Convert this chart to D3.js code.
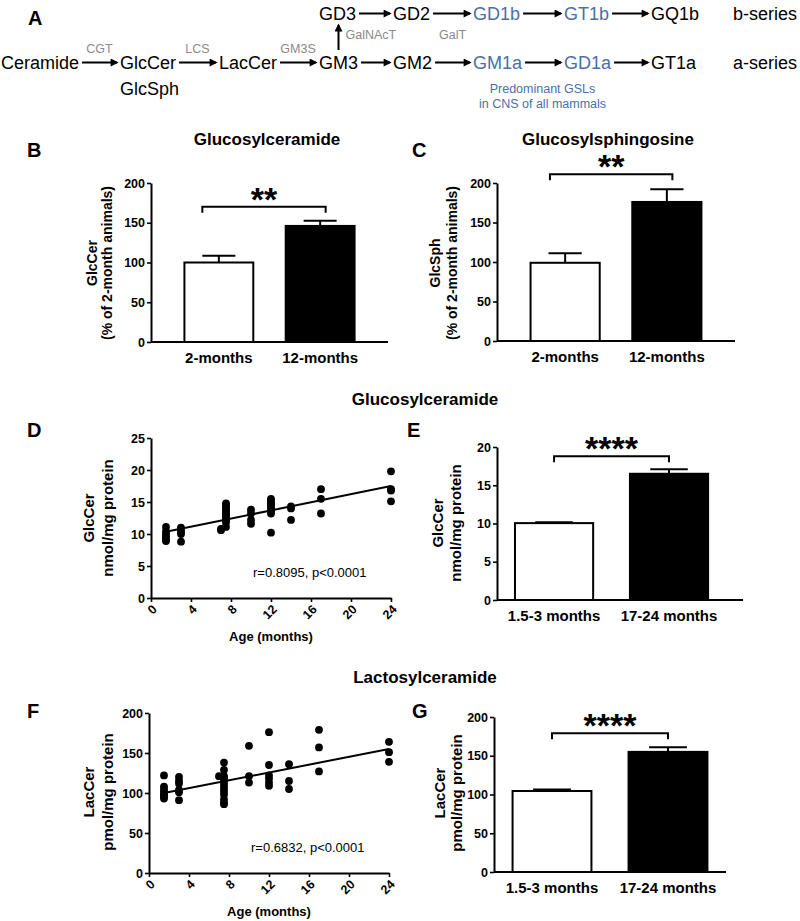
<!DOCTYPE html>
<html>
<head>
<meta charset="utf-8">
<script src="https://cdn.jsdelivr.net/npm/d3@7"></script>
<style>
  body { margin: 0; background: #fff; }
  text { font-family: "Liberation Sans", Arial, Helvetica, sans-serif; }
</style>
</head>
<body>
<svg id="fig" width="800" height="921"></svg>
<script>
// ---- data ----
// panel A: pathway
const aSeries = ["Ceramide", "GlcCer", "LacCer", "GM3", "GM2", "GM1a", "GD1a", "GT1a"];
const bSeries = ["GD3", "GD2", "GD1b", "GT1b", "GQ1b"];
const enzymes = ["CGT", "LCS", "GM3S"];
const blueNames = ["GM1a", "GD1a", "GD1b", "GT1b"];

// panels B, C
const groupsBC = ["2-months", "12-months"];
const glcCerPct = [100, 146];
const glcCerPctSem = [8.5, 6.5];
const glcSphPct = [99, 176];
const glcSphPctSem = [12, 16];
const ticksPct = [0, 50, 100, 150, 200];

// panels E, G
const groupsEG = ["1.5-3 months", "17-24 months"];
const glcCerMean = [10.05, 16.5];
const glcCerSem = [0.12, 0.6];
const lacCerMean = [104.5, 155];
const lacCerSem = [2, 6];

// panels D, F: individual animals by age (months)
const ageGroups = [1.5, 3, 7, 7.5, 10, 12, 14, 17, 24];
const glcCerByAge = [
  [11.1, 10.4, 10.0, 9.7, 9.4, 9.1, 8.9],
  [11.0, 10.7, 10.3, 10.0, 8.8],
  [10.6, 10.8],
  [14.8, 14.5, 14.2, 13.9, 13.6, 13.3, 13.0, 12.7, 12.4, 12.1, 11.8, 11.1],
  [13.8, 13.2, 12.2, 11.6],
  [15.5, 15.2, 14.9, 14.6, 14.3, 14.0, 13.6, 13.2, 10.2],
  [14.3, 14.0, 12.2],
  [17.0, 15.5, 13.2],
  [19.8, 17.0, 16.8, 15.1]
];
const lacCerByAge = [
  [122, 108, 105, 102, 99, 97, 95, 93],
  [120, 115, 112, 104, 101, 91],
  [121],
  [138, 129, 121, 118, 114, 110, 106, 102, 98, 92, 88, 86],
  [159, 121, 113],
  [176, 135, 122, 118, 113, 109],
  [136, 115, 105],
  [179, 157, 127],
  [164, 151, 139]
];
const fitAge = [1.5, 24];
const fitGlcCer = [10.35, 17.5];
const fitLacCer = [100, 155];
const ageTicks = [0, 4, 8, 12, 16, 20, 24];

// ---- drawing ----
const svg = d3.select("#fig");
const BLUE = "#4a6fa5";
const GREY = "#8a8a8a";

svg.append("rect").attr("width", 800).attr("height", 921).attr("fill", "#fff");

svg.append("defs").append("marker")
  .attr("id", "head").attr("viewBox", "0 0 10 10")
  .attr("refX", 8).attr("refY", 5)
  .attr("markerWidth", 4.6).attr("markerHeight", 4)
  .attr("orient", "auto")
  .append("path").attr("d", "M0,0L10,5L0,10z").attr("fill", "#000");

function arrow(g, x1, y1, x2, y2) {
  g.append("line")
    .attr("x1", x1).attr("y1", y1).attr("x2", x2).attr("y2", y2)
    .attr("stroke", "#000").attr("stroke-width", 2)
    .attr("marker-end", "url(#head)");
}

function letter(t, x, y) {
  svg.append("text").attr("x", x).attr("y", y)
    .attr("font-size", 20).attr("font-weight", "bold").text(t);
}

function title(t, cx, y) {
  svg.append("text").attr("x", cx).attr("y", y).attr("text-anchor", "middle")
    .attr("font-size", 17).attr("font-weight", "bold").text(t);
}

function yTitle(lines, xs, cy, fs) {
  lines.forEach((t, i) => {
    svg.append("text")
      .attr("transform", `translate(${xs[i] + fs * 0.36},${cy}) rotate(-90)`)
      .attr("text-anchor", "middle").attr("font-size", fs).attr("font-weight", "bold")
      .text(t);
  });
}

function styleAxis(ax) {
  ax.select(".domain").attr("stroke", "#000").attr("stroke-width", 2);
  ax.selectAll(".tick line").attr("stroke", "#000").attr("stroke-width", 1.6);
  ax.selectAll(".tick text")
    .attr("fill", "#000").attr("font-size", 12.5).attr("font-weight", "bold")
    .style("font-family", "'Liberation Sans', Arial, sans-serif");
}

// ---- panel A ----
const A = svg.append("g");
const fsA = 18, rowA = 69, rowB = 20;
const colX = [1, 120, 219, 319, 393, 473, 564, 651];

const aText = A.selectAll("text.a").data(aSeries).join("text")
  .attr("class", "a")
  .attr("x", (d, i) => colX[i]).attr("y", rowA)
  .attr("font-size", fsA)
  .attr("fill", d => blueNames.includes(d) ? BLUE : "#000")
  .text(d => d);
const aW = aText.nodes().map(n => n.getComputedTextLength());

const bText = A.selectAll("text.b").data(bSeries).join("text")
  .attr("class", "b")
  .attr("x", (d, i) => colX[i + 3]).attr("y", rowB)
  .attr("font-size", fsA)
  .attr("fill", d => blueNames.includes(d) ? BLUE : "#000")
  .text(d => d);
const bW = bText.nodes().map(n => n.getComputedTextLength());

const arrowsA = [];
for (let i = 0; i < aSeries.length - 1; i++) {
  const x1 = colX[i] + aW[i] + 3, x2 = colX[i + 1] - 3;
  arrowsA.push([x1, x2]);
  arrow(A, x1, rowA - 6.5, x2, rowA - 6.5);
}
for (let i = 0; i < bSeries.length - 1; i++) {
  arrow(A, colX[i + 3] + bW[i] + 3, rowB - 6.5, colX[i + 4] - 3, rowB - 6.5);
}

A.selectAll("text.enz").data(enzymes).join("text")
  .attr("class", "enz")
  .attr("x", (d, i) => (arrowsA[i][0] + arrowsA[i][1]) / 2).attr("y", 53)
  .attr("text-anchor", "middle").attr("font-size", 12.5).attr("fill", GREY)
  .text(d => d);

const gm3c = colX[3] + aW[3] / 2;
arrow(A, gm3c, 50, gm3c, 25);
A.append("text").attr("x", gm3c + 7).attr("y", 39).attr("font-size", 12.5).attr("fill", GREY).text("GalNAcT");
A.append("text").attr("x", (arrowsA[4][0] + arrowsA[4][1]) / 2).attr("y", 39)
  .attr("text-anchor", "middle").attr("font-size", 12.5).attr("fill", GREY).text("GalT");

A.append("text").attr("x", colX[1]).attr("y", 95).attr("font-size", fsA).text("GlcSph");
A.append("text").attr("x", 733).attr("y", rowB).attr("font-size", fsA).text("b-series");
A.append("text").attr("x", 733).attr("y", rowA).attr("font-size", fsA).text("a-series");

const predX = (colX[5] + aW[5] / 2 + colX[6] + aW[6] / 2) / 2;
A.append("text").attr("x", predX).attr("y", 93).attr("text-anchor", "middle")
  .attr("font-size", 12.5).attr("fill", BLUE).text("Predominant GSLs");
A.append("text").attr("x", predX).attr("y", 108).attr("text-anchor", "middle")
  .attr("font-size", 12.5).attr("fill", BLUE).text("in CNS of all mammals");

letter("A", 28, 25);

// ---- bar panels ----
function barPanel(o) {
  const g = svg.append("g");
  const y = d3.scaleLinear().domain([0, o.max]).range([o.y0, o.y1]);
  const x = d3.scaleBand().domain(o.groups).range([o.x0, o.x1])
    .paddingInner(0.32).paddingOuter(o.outer).align(o.align);
  const bw = x.bandwidth();

  g.selectAll("rect").data(o.values).join("rect")
    .attr("x", (d, i) => x(o.groups[i])).attr("y", d => y(d))
    .attr("width", bw).attr("height", d => y(0) - y(d))
    .attr("fill", (d, i) => i ? "#000" : "#fff")
    .attr("stroke", "#000").attr("stroke-width", 2);

  o.values.forEach((v, i) => {
    const cx = x(o.groups[i]) + bw / 2;
    g.append("line").attr("x1", cx).attr("x2", cx)
      .attr("y1", y(v)).attr("y2", y(v + o.err[i]))
      .attr("stroke", "#000").attr("stroke-width", 2);
    g.append("line").attr("x1", cx - bw * 0.24).attr("x2", cx + bw * 0.24)
      .attr("y1", y(v + o.err[i])).attr("y2", y(v + o.err[i]))
      .attr("stroke", "#000").attr("stroke-width", 2);
  });

  const ax = g.append("g").attr("transform", `translate(${o.x0},0)`)
    .call(d3.axisLeft(y).tickValues(o.ticks).tickSize(4).tickSizeOuter(0).tickPadding(2));
  styleAxis(ax);
  g.append("line").attr("x1", o.x0).attr("x2", o.x1).attr("y1", y(0)).attr("y2", y(0))
    .attr("stroke", "#000").attr("stroke-width", 2);

  g.selectAll("text.cat").data(o.groups).join("text")
    .attr("class", "cat")
    .attr("x", d => x(d) + bw / 2).attr("y", y(0) + 21)
    .attr("text-anchor", "middle").attr("font-size", 15).attr("font-weight", "bold")
    .text(d => d);

  // significance bracket
  const bx1 = x(o.groups[0]) + bw * o.brk[0];
  const bx2 = x(o.groups[1]) + bw * o.brk[1];
  const by = y(o.sig);
  g.append("path")
    .attr("d", `M${bx1},${by + 6}V${by}H${bx2}V${by + 6}`)
    .attr("fill", "none").attr("stroke", "#000").attr("stroke-width", 2);
  g.append("text").attr("x", (bx1 + bx2) / 2).attr("y", by + 4)
    .attr("text-anchor", "middle").attr("font-size", 34).attr("font-weight", "bold")
    .text(o.stars);
}

// B
letter("B", 27, 157);
title("Glucosylceramide", 267, 145);
barPanel({
  groups: groupsBC, values: glcCerPct, err: glcCerPctSem, max: 200, ticks: ticksPct,
  x0: 151, x1: 388, y0: 342, y1: 183, outer: 0.33, align: 0.5,
  sig: 170, brk: [0.26, 0.58], stars: "**"
});
yTitle(["GlcCer", "(% of 2-month animals)"], [92, 107], 263, 14);

// C
letter("C", 412, 157);
title("Glucosylsphingosine", 608, 145);
barPanel({
  groups: groupsBC, values: glcSphPct, err: glcSphPctSem, max: 200, ticks: ticksPct,
  x0: 497, x1: 735, y0: 341, y1: 183, outer: 0.33, align: 0.5,
  sig: 211, brk: [0.28, 0.58], stars: "**"
});
yTitle(["GlcSph", "(% of 2-month animals)"], [435, 452], 263, 14);

// ---- scatter panels ----
function scatterPanel(o) {
  const g = svg.append("g");
  const x = d3.scaleLinear().domain([0, 24]).range([o.x0, o.x1]);
  const y = d3.scaleLinear().domain([0, o.max]).range([o.y0, o.y1]);

  const pts = ageGroups.flatMap((a, i) => o.values[i].map(v => [a, v]));
  g.selectAll("circle").data(pts).join("circle")
    .attr("cx", d => x(d[0])).attr("cy", d => y(d[1])).attr("r", 3.9).attr("fill", "#000");

  g.append("line")
    .attr("x1", x(fitAge[0])).attr("y1", y(o.fit[0]))
    .attr("x2", x(fitAge[1])).attr("y2", y(o.fit[1]))
    .attr("stroke", "#000").attr("stroke-width", 2);

  const ay = g.append("g").attr("transform", `translate(${o.x0},0)`)
    .call(d3.axisLeft(y).tickValues(o.ticks).tickSize(4).tickSizeOuter(0).tickPadding(2));
  styleAxis(ay);

  const ax = g.append("g").attr("transform", `translate(0,${o.y0})`)
    .call(d3.axisBottom(x).tickValues(ageTicks).tickSize(4).tickSizeOuter(0));
  styleAxis(ax);
  ax.selectAll(".tick text")
    .attr("x", 0).attr("y", 0).attr("dy", "0.35em")
    .attr("text-anchor", "end")
    .attr("transform", "translate(3,9) rotate(-45)");

  g.append("text").attr("x", x(12)).attr("y", o.y0 + 43)
    .attr("text-anchor", "middle").attr("font-size", 13).attr("font-weight", "bold")
    .text("Age (months)");
  g.append("text").attr("x", o.x0 + 102).attr("y", o.y0 - 21)
    .attr("font-size", 13).text(o.stat);
}

// D, E
title("Glucosylceramide", 425, 405);
letter("D", 27, 437);
scatterPanel({
  values: glcCerByAge, fit: fitGlcCer, max: 25, ticks: [0, 5, 10, 15, 20, 25],
  x0: 151, x1: 391, y0: 598, y1: 438, stat: "r=0.8095, p<0.0001"
});
yTitle(["GlcCer", "nmol/mg protein"], [89, 108], 518, 15);

letter("E", 407, 437);
barPanel({
  groups: groupsEG, values: glcCerMean, err: glcCerSem, max: 20, ticks: [0, 5, 10, 15, 20],
  x0: 497, x1: 743, y0: 600, y1: 447, outer: 0.23, align: 0.34,
  sig: 18.8, brk: [0.5, 0.5], stars: "****"
});
yTitle(["GlcCer", "nmol/mg protein"], [438, 456], 523, 15);

// F, G
title("Lactosylceramide", 425, 683);
letter("F", 27, 718);
scatterPanel({
  values: lacCerByAge, fit: fitLacCer, max: 200, ticks: [0, 50, 100, 150, 200],
  x0: 149, x1: 389, y0: 873, y1: 713, stat: "r=0.6832, p<0.0001"
});
yTitle(["LacCer", "pmol/mg protein"], [89, 108], 792, 15);

letter("G", 412, 718);
barPanel({
  groups: groupsEG, values: lacCerMean, err: lacCerSem, max: 200, ticks: ticksPct,
  x0: 494, x1: 726, y0: 872, y1: 717, outer: 0.16, align: 0.5,
  sig: 179, brk: [0.5, 0.5], stars: "****"
});
yTitle(["LacCer", "pmol/mg protein"], [440, 457], 793, 15);
</script>
</body>
</html>
